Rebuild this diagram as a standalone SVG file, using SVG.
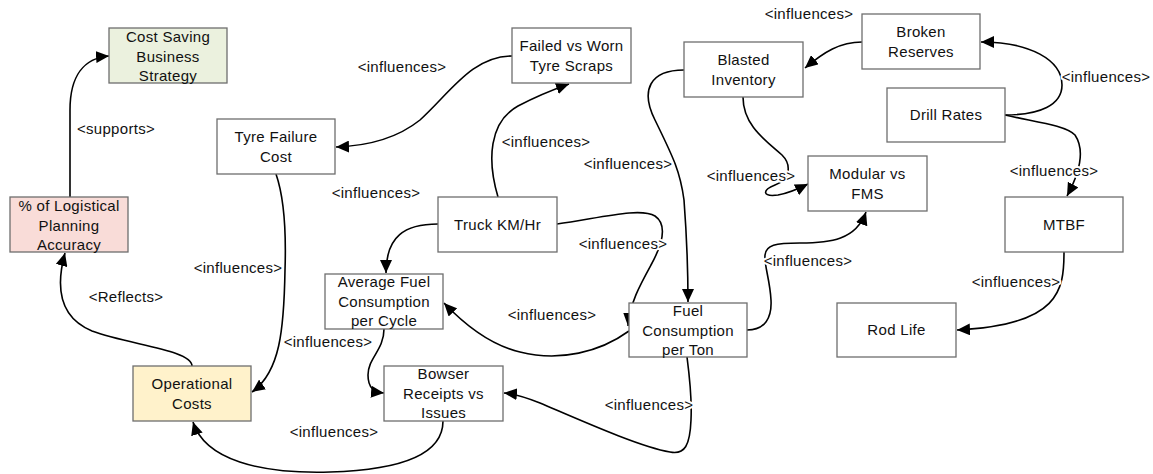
<svg xmlns="http://www.w3.org/2000/svg" width="1153" height="474" viewBox="0 0 1153 474">
<style>
.box{fill:#ffffff;stroke:#6e6e6e;stroke-width:1.3}
.green{fill:#ebf1de}
.pink{fill:#f9dcd8}
.yellow{fill:#fff2cb}
text{font-family:"Liberation Sans",Arial,sans-serif;font-size:15px;fill:#111;letter-spacing:0.3px}
.nt{text-anchor:middle}
.lbl{text-anchor:middle;stroke:#ffffff;stroke-width:4;paint-order:stroke;stroke-linejoin:round}
.edge{fill:none;stroke:#000;stroke-width:1.6;marker-end:url(#arr)}
</style>
<defs>
<marker id="arr" markerUnits="userSpaceOnUse" markerWidth="14" markerHeight="12" refX="13" refY="6" orient="auto">
<path d="M0,0 L13,6 L0,12 z" fill="#000"/>
</marker>
</defs>
<rect width="1153" height="474" fill="#ffffff"/>

<g id="connectors">
<path class="edge" d="M70,197 L70,110 C70,76 84,58 109,56"/>
<path class="edge" d="M192,366 C192,350 130,345 92,331 C56,316 57,282 65,253"/>
<path class="edge" d="M276,174 C285,200 286,240 285,270 C284,330 280,372 252,392"/>
<path class="edge" d="M512,56 C472,56 450,93 420,120 C395,140 366,146 336,147"/>
<path class="edge" d="M498,197 C487,160 489,122 518,106 C537,96 552,90 569,84"/>
<path class="edge" d="M438,224 C405,224 386,236 386,273"/>
<path class="edge" d="M557,224 C600,218 640,207 655,216 C668,225 662,245 651,265 C640,285 630,303 628,326"/>
<path class="edge" d="M629,331 C600,352 560,362 520,352 C490,345 465,325 444,303"/>
<path class="edge" d="M384,329 C384,350 368,358 368,375 C368,388 374,392 384,393"/>
<path class="edge" d="M687,357 C690,380 692,400 691,420 C690,445 685,455 670,452 C640,447 580,420 540,403 C525,397 515,394 504,393"/>
<path class="edge" d="M443,421 C443,455 400,470 330,472 C260,474 205,460 193,422"/>
<path class="edge" d="M684,70 C650,70 640,90 655,120 C672,155 680,170 684,200 C687,240 688,270 688,302"/>
<path class="edge" d="M862,42 C840,42 824,52 805,68"/>
<path class="edge" d="M1005,115 C1040,115 1062,105 1062,85 C1062,60 1030,42 981,42"/>
<path class="edge" d="M1005,115 C1035,122 1065,125 1075,135 C1085,150 1080,172 1067,196"/>
<path class="edge" d="M743,97 C743,125 765,140 782,155 C792,165 790,180 775,185 C762,190 762,197 778,195 C790,193 798,189 808,184"/>
<path class="edge" d="M747,330 C765,330 772,318 771,300 C770,280 764,265 765,255 C766,245 775,243 800,243 C830,243 856,240 866,212"/>
<path class="edge" d="M1064,252 C1064,290 1060,325 957,330"/>
</g>

<g id="labels">
<text class="lbl" x="116" y="134">&lt;supports&gt;</text>
<text class="lbl" x="126" y="302">&lt;Reflects&gt;</text>
<text class="lbl" x="402" y="72">&lt;influences&gt;</text>
<text class="lbl" x="376" y="198">&lt;influences&gt;</text>
<text class="lbl" x="546" y="147">&lt;influences&gt;</text>
<text class="lbl" x="628" y="169">&lt;influences&gt;</text>
<text class="lbl" x="623" y="249">&lt;influences&gt;</text>
<text class="lbl" x="552" y="320">&lt;influences&gt;</text>
<text class="lbl" x="238" y="273">&lt;influences&gt;</text>
<text class="lbl" x="328" y="347">&lt;influences&gt;</text>
<text class="lbl" x="334" y="437">&lt;influences&gt;</text>
<text class="lbl" x="649" y="410">&lt;influences&gt;</text>
<text class="lbl" x="809" y="19">&lt;influences&gt;</text>
<text class="lbl" x="1106" y="82">&lt;influences&gt;</text>
<text class="lbl" x="751" y="181">&lt;influences&gt;</text>
<text class="lbl" x="1054" y="176">&lt;influences&gt;</text>
<text class="lbl" x="808" y="266">&lt;influences&gt;</text>
<text class="lbl" x="1016" y="287">&lt;influences&gt;</text>
</g>

<g id="n-cost-saving">
<rect class="box green" x="109" y="28" width="118" height="55"/>
<text class="nt" x="168" y="42">Cost Saving</text>
<text class="nt" x="168" y="61.5">Business</text>
<text class="nt" x="168" y="81">Strategy</text>
</g>
<g id="n-logistical">
<rect class="box pink" x="10" y="197" width="118" height="55"/>
<text class="nt" x="69" y="211">% of Logistical</text>
<text class="nt" x="69" y="230.5">Planning</text>
<text class="nt" x="69" y="250">Accuracy</text>
</g>
<g id="n-operational">
<rect class="box yellow" x="133" y="366" width="118" height="55"/>
<text class="nt" x="192" y="389">Operational</text>
<text class="nt" x="192" y="409">Costs</text>
</g>
<g id="n-tyre-failure">
<rect class="box" x="217" y="119" width="118" height="55"/>
<text class="nt" x="276" y="142">Tyre Failure</text>
<text class="nt" x="276" y="162">Cost</text>
</g>
<g id="n-failed-worn">
<rect class="box" x="512" y="28" width="119" height="55"/>
<text class="nt" x="571.5" y="51">Failed vs Worn</text>
<text class="nt" x="571.5" y="71">Tyre Scraps</text>
</g>
<g id="n-truck">
<rect class="box" x="438" y="197" width="119" height="55"/>
<text class="nt" x="497.5" y="229.5">Truck KM/Hr</text>
</g>
<g id="n-avg-fuel">
<rect class="box" x="325" y="274" width="118" height="55"/>
<text class="nt" x="384" y="287">Average Fuel</text>
<text class="nt" x="384" y="306.5">Consumption</text>
<text class="nt" x="384" y="326">per Cycle</text>
</g>
<g id="n-bowser">
<rect class="box" x="384" y="366" width="119" height="55"/>
<text class="nt" x="443.5" y="379">Bowser</text>
<text class="nt" x="443.5" y="398.5">Receipts vs</text>
<text class="nt" x="443.5" y="418">Issues</text>
</g>
<g id="n-fuel-ton">
<rect class="box" x="629" y="303" width="118" height="54"/>
<text class="nt" x="688" y="316">Fuel</text>
<text class="nt" x="688" y="335.5">Consumption</text>
<text class="nt" x="688" y="355">per Ton</text>
</g>
<g id="n-blasted">
<rect class="box" x="684" y="42" width="119" height="55"/>
<text class="nt" x="743.5" y="65">Blasted</text>
<text class="nt" x="743.5" y="85">Inventory</text>
</g>
<g id="n-broken">
<rect class="box" x="862" y="14" width="118" height="55"/>
<text class="nt" x="921" y="37">Broken</text>
<text class="nt" x="921" y="57">Reserves</text>
</g>
<g id="n-drill">
<rect class="box" x="887" y="88" width="118" height="54"/>
<text class="nt" x="946" y="120">Drill Rates</text>
</g>
<g id="n-modular">
<rect class="box" x="808" y="156" width="119" height="55"/>
<text class="nt" x="867.5" y="179">Modular vs</text>
<text class="nt" x="867.5" y="199">FMS</text>
</g>
<g id="n-mtbf">
<rect class="box" x="1005" y="197" width="118" height="55"/>
<text class="nt" x="1064" y="229.5">MTBF</text>
</g>
<g id="n-rod-life">
<rect class="box" x="837" y="303" width="119" height="54"/>
<text class="nt" x="896.5" y="335">Rod Life</text>
</g>
</svg>
